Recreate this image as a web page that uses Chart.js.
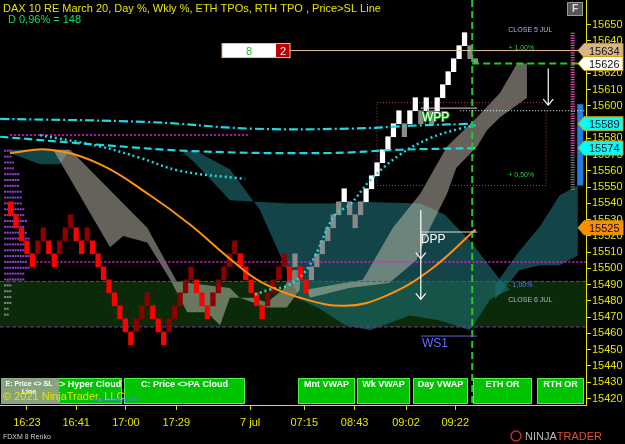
<!DOCTYPE html>
<html>
<head>
<meta charset="utf-8">
<script src="https://cdn.jsdelivr.net/npm/chart.js@4"></script>
<style>
  html, body { margin: 0; padding: 0; background: #000; }
  canvas { display: block; }
</style>
</head>
<body>
<canvas id="c" width="625" height="444"></canvas>
<script>
// renko bricks (8 pt), low price of each brick, colour code per brick
const brickLow = [
  15533,15525,15517,15509,15501,15509,15517,15509,15501,15509,
  15517,15525,15517,15509,15517,15509,15501,15493,15485,15477,
  15469,15461,15453,15461,15469,15477,15469,15461,15453,15461,
  15469,15477,15485,15493,15485,15477,15469,15477,15485,15493,
  15501,15509,15501,15493,15485,15477,15469,15477,15485,15493,
  15501,15493,15501,15493,15485,15493,15501,15509,15517,15525,
  15533,15541,15533,15525,15533,15541,15549,15557,15565,15573,
  15581,15589,15581,15589,15597,15589,15597,15589,15597,15605,
  15613,15621,15629,15637,15629
];
const brickCol = 'RRRRRDDRRDDDRRDRRRRRRRRDDDRRRDDDDDRRRDDDDDRRRRRDDDDRGRRGGGGGGWGGGWWWWWWWGWWGWGWWWWWWG';
const brickSize = 8;
const lastBrick = [15626, 15629];

// time axis
const timeTicks = [4, 13, 22.1, 31.3, 44.8, 54.7, 63.9, 73.3, 82.3];
const timeLabels = ['16:23', '16:41', '17:00', '17:29', '7 jul', '07:15', '08:43', '09:02', '09:22'];

// indicator lines [bar index, price]
const hyperCloud = [[0.9,15571],[8.2,15573],[17.4,15564],[26.5,15545],[33.8,15527],[41.1,15506],[46.6,15492],[53.9,15482],[62.2,15477],[69.5,15483],[77.7,15499],[86,15524]];
const mntVwap = [[-0.9,15592],[26.5,15590],[44.8,15586],[63.1,15586],[75.9,15588],[86,15589]];
const wkVwap = [[-0.9,15581],[17.4,15576],[35.6,15572],[59.4,15571],[72.2,15573],[86,15574]];
const prevVwap = [[6.4,15582],[17.4,15575],[24.7,15568],[32,15560],[43.9,15555]];
const dayVwap = [[45.7,15484],[48.4,15487],[52,15490],[55.7,15502],[60.3,15533],[63,15539],[66.7,15554],[72.2,15570],[77.6,15580],[83.1,15586],[86,15588]];

// clouds (polygons in bar index / price)
const tealLeft = [[0.9,15573],[11.9,15573],[10,15564],[6.4,15564],[0.9,15571]];
const tealMain = [[32,15573],[34.7,15565],[41.1,15542],[52.1,15540],[59.4,15540],[64.9,15541],[75.9,15540],[80.4,15533],[85,15517],[90.5,15493],[92.3,15487],
  [88.7,15481],[85,15462],[79.5,15468],[74,15471],[66.7,15462],[62.2,15465],[57.6,15475],[53.9,15481],[50.3,15508],[46.6,15536],[41.1,15561],[35.6,15571]];
const tealRight = [[89.6,15490],[94.1,15511],[97.8,15526],[101.4,15545],[104.7,15551],[104.7,15508],[101.4,15502],[97.8,15502],[94.1,15499],[89.6,15481]];
const grayLeft = [[8.8,15573],[11.9,15573],[26,15525],[31.4,15492],[41.1,15488],[42.9,15482],[45.3,15482],[47.9,15479],[50.8,15487],[52.6,15499],[53.9,15499],
  [53.9,15487],[51.5,15476],[47.9,15476],[42.9,15482],[41.1,15482],[39.3,15465],[36.9,15473],[33.3,15473],[30.2,15493],[26,15516],[21.6,15520],[19.2,15513]];
const grayRight = [[55.2,15487],[65.4,15493],[70.9,15525],[75.9,15546],[80.8,15575],[86.3,15593],[90.5,15608],[93.6,15626],[95.4,15626],
  [95.4,15605],[90.5,15593],[88.1,15585],[86.3,15575],[82.5,15562],[80.8,15546],[77.7,15525],[75.2,15505],[70.2,15491],[62.9,15488],[55.7,15482]];

// levels
const zoneLow = 15464, zoneHigh = 15492;
const pivotLine = 15504, prevHigh = 15582;
const tagPrices = [15634, 15626, 15589, 15574, 15525];
const tagColors = ['#d9b48a', '#ffffff', '#00ffff', '#00ffff', '#ff8c00'];
const tpoLeft = [3,3,4,4,6,6,6,7,7,7,8,8,9,8,9,10,10,10,10,9,10,8,8,3,3,3,3,2,2];

const lineDs = (pts, color, dash, w) => ({
  type: 'line', data: pts.map(p => ({x: p[0], y: p[1]})), borderColor: color, borderWidth: w,
  borderDash: dash, pointRadius: 0, tension: 0.4, fill: false, order: 0
});

const bricks = brickLow.map((lo, i) => ({x: i + 1, y: [lo, lo + brickSize]}));
bricks.push({x: brickLow.length + 1, y: lastBrick});
const colMap = {R: '#ff0000', D: '#8b0000', W: '#ffffff', G: '#8a8a8a'};
const brickColors = (brickCol + 'G').split('').map(c => colMap[c]);

const overlay = {
  id: 'overlay',
  beforeDatasetsDraw(chart) {
    const {ctx, chartArea: a, scales: {x, y}} = chart;
    const X = v => x.getPixelForValue(v), Y = v => y.getPixelForValue(v);
    ctx.save();
    ctx.beginPath(); ctx.rect(a.left, a.top, a.right - a.left, a.bottom - a.top); ctx.clip();
    // green zone
    ctx.fillStyle = '#0a2a0a';
    ctx.fillRect(a.left, Y(zoneHigh), a.right - a.left, Y(zoneLow) - Y(zoneHigh));
    const poly = (pts, fill) => {
      ctx.beginPath();
      pts.forEach((p, i) => i ? ctx.lineTo(X(p[0]), Y(p[1])) : ctx.moveTo(X(p[0]), Y(p[1])));
      ctx.closePath(); ctx.fillStyle = fill; ctx.fill();
    };
    [tealLeft, tealMain, tealRight].forEach(p => poly(p, 'rgba(30,110,115,0.62)'));
    [grayLeft, grayRight].forEach(p => poly(p, 'rgba(200,195,180,0.5)'));
    // zone borders
    ctx.setLineDash([4, 2]); ctx.lineWidth = 1; ctx.strokeStyle = '#7a3aa0';
    [zoneHigh, zoneLow].forEach(v => { ctx.beginPath(); ctx.moveTo(a.left, Y(v)); ctx.lineTo(a.right, Y(v)); ctx.stroke(); });
    ctx.setLineDash([2, 2]); ctx.strokeStyle = '#e020e0'; ctx.lineWidth = 1.5;
    ctx.beginPath(); ctx.moveTo(X(5), Y(pivotLine)); ctx.lineTo(a.right, Y(pivotLine)); ctx.stroke();
    ctx.beginPath(); ctx.moveTo(X(0.9), Y(prevHigh)); ctx.lineTo(X(44.8), Y(prevHigh)); ctx.stroke();
    // pink dotted box
    ctx.setLineDash([1, 2]); ctx.strokeStyle = '#a04070'; ctx.lineWidth = 1;
    ctx.strokeRect(X(68), Y(15602), X(98.9) - X(68), Y(15551) - Y(15602));
    // left TPO
    ctx.setLineDash([]);
    tpoLeft.forEach((n, i) => {
      const yy = Y(15573 - i * 3.6);
      ctx.fillStyle = i > 22 ? '#888' : '#9040d0';
      for (let k = 0; k < n; k++) ctx.fillRect(X(-0.9) + 4 + k * 2.6, yy, 2, 2);
    });
    // right TPO column
    for (let p = 15645; p > 15548; p -= 1.5) {
      ctx.fillStyle = p < 15572 ? '#777' : '#e050b0';
      ctx.fillRect(X(103.4), Y(p), 4, 1.2);
    }
    ctx.fillStyle = '#1e7fe0';
    ctx.fillRect(X(104.6), Y(15601), X(105.7) - X(104.6), Y(15551) - Y(15601));
    ctx.restore();
  },
  afterDatasetsDraw(chart) {
    const {ctx, chartArea: a, scales: {x, y}} = chart;
    const X = v => x.getPixelForValue(v), Y = v => y.getPixelForValue(v);
    ctx.save();
    // lines
    ctx.strokeStyle = '#e8c39a'; ctx.lineWidth = 1;
    ctx.beginPath(); ctx.moveTo(X(52.1), Y(15634)); ctx.lineTo(a.right, Y(15634)); ctx.stroke();
    ctx.setLineDash([7, 4]); ctx.strokeStyle = '#22cc22'; ctx.lineWidth = 2;
    ctx.beginPath(); ctx.moveTo(X(85.4), a.top); ctx.lineTo(X(85.4), a.bottom); ctx.stroke();
    ctx.beginPath(); ctx.moveTo(X(85.4), Y(15626)); ctx.lineTo(a.right, Y(15626)); ctx.stroke();
    ctx.setLineDash([1, 2]); ctx.strokeStyle = '#fff'; ctx.lineWidth = 1;
    ctx.beginPath(); ctx.moveTo(X(83.2), Y(15597)); ctx.lineTo(a.right, Y(15597)); ctx.stroke();
    ctx.setLineDash([]);
    ctx.strokeStyle = '#ddd';
    [15598.6, 15522.4].forEach(p => {
      ctx.beginPath(); ctx.moveTo(X(76), Y(p)); ctx.lineTo(X(86.3), Y(p)); ctx.stroke();
    });
    ctx.strokeStyle = '#6060d0';
    ctx.beginPath(); ctx.moveTo(X(76), Y(15458.4)); ctx.lineTo(X(86.3), Y(15458.4)); ctx.stroke();
    // arrows
    const arrow = (xi, p0, p1) => {
      const x0 = X(xi), y0 = Y(p0), y1 = Y(p1);
      ctx.strokeStyle = '#fff'; ctx.lineWidth = 1.2;
      ctx.beginPath(); ctx.moveTo(x0, y0); ctx.lineTo(x0, y1); ctx.stroke();
      ctx.beginPath(); ctx.moveTo(x0 - 5, y1 - 6); ctx.lineTo(x0, y1); ctx.lineTo(x0 + 5, y1 - 6); ctx.stroke();
    };
    arrow(99.3, 15623, 15600.5);
    arrow(76, 15536, 15506);
    arrow(76, 15506, 15481);
    // labels
    ctx.textBaseline = 'middle';
    ctx.font = '12px "Liberation Sans", Arial';
    ctx.fillStyle = '#fff'; ctx.fillText('DPP', X(76), Y(15517.5));
    ctx.strokeStyle = '#22aa22'; ctx.lineWidth = 2; ctx.strokeText('WPP', X(76.2), Y(15592.5));
    ctx.fillStyle = '#fff'; ctx.fillText('WPP', X(76.2), Y(15592.5));
    ctx.fillStyle = '#6a6aff'; ctx.fillText('WS1', X(76.2), Y(15454));
    ctx.font = '7px "Liberation Sans", Arial';
    ctx.fillStyle = '#a8b8d8'; ctx.fillText('CLOSE 5 JUL', X(92), Y(15646.6));
    ctx.fillText('CLOSE 6 JUL', X(92), Y(15480.6));
    ctx.fillStyle = '#22cc44'; ctx.fillText('+ 1,00%', X(92), Y(15635.5));
    ctx.fillText('+ 0,50%', X(92), Y(15557.4));
    ctx.fillStyle = '#5a78ff'; ctx.fillText('- 1,00%', X(92), Y(15489.8));
    // 8 | 2 box
    const bx = X(52.1), by = Y(15634);
    ctx.fillStyle = '#fff'; ctx.fillRect(bx - 68, by - 7, 54, 14);
    ctx.fillStyle = '#c00000'; ctx.fillRect(bx - 14, by - 7, 14, 14);
    ctx.strokeStyle = '#e8c39a'; ctx.lineWidth = 1; ctx.strokeRect(bx - 68, by - 7, 68, 14);
    ctx.font = '11px "Liberation Sans", Arial'; ctx.textAlign = 'center';
    ctx.fillStyle = '#22bb22'; ctx.fillText('8', bx - 41, by + 1);
    ctx.fillStyle = '#fff'; ctx.fillText('2', bx - 7, by + 1);
    ctx.restore();
  },
  afterDraw(chart) {
    const {ctx, scales: {y}} = chart;
    ctx.save();
    ctx.textBaseline = 'middle';
    // header
    ctx.font = '11px "Liberation Sans", Arial';
    ctx.fillStyle = '#e4e400';
    ctx.fillText('DAX 10 RE March 20, Day %, Wkly %, ETH TPOs, RTH TPO , Price>SL Line', 3, 9);
    ctx.fillStyle = '#10e060';
    ctx.fillText('D 0,96% = 148', 8, 20);
    // F button
    ctx.fillStyle = '#555'; ctx.fillRect(567, 2, 16, 14);
    ctx.strokeStyle = '#999'; ctx.strokeRect(567.5, 2.5, 15, 13);
    ctx.fillStyle = '#ddd'; ctx.font = 'bold 10px "Liberation Sans", Arial'; ctx.fillText('F', 572, 9);
    // price tags
    ctx.font = '11px "Liberation Sans", Arial';
    tagPrices.forEach((p, i) => {
      const yy = y.getPixelForValue(p);
      ctx.beginPath();
      ctx.moveTo(578, yy); ctx.lineTo(584, yy - 7); ctx.lineTo(623, yy - 7); ctx.lineTo(623, yy + 7); ctx.lineTo(584, yy + 7); ctx.closePath();
      ctx.fillStyle = tagColors[i]; ctx.fill();
      ctx.strokeStyle = '#c8a000'; ctx.lineWidth = 1; ctx.stroke();
      ctx.fillStyle = '#111'; ctx.fillText(String(p), 589, yy + 1);
    });
    // buttons
    const btns = [[1, 122, '<> Hyper Cloud'], [124, 245, 'C: Price <>PA Cloud'], [298, 355, 'Mnt VWAP'], [357, 410, 'Wk VWAP'],
      [413, 468, 'Day VWAP'], [473, 532, 'ETH OR'], [537, 584, 'RTH OR']];
    ctx.font = 'bold 9px "Liberation Sans", Arial'; ctx.textAlign = 'center';
    btns.forEach(([x0, x1, t]) => {
      ctx.fillStyle = '#00c400'; ctx.fillRect(x0, 378, x1 - x0, 26);
      ctx.strokeStyle = '#50f050'; ctx.strokeRect(x0 + 0.5, 378.5, x1 - x0 - 1, 25);
      ctx.fillStyle = '#fff'; ctx.fillText(t, x0 === 1 ? 88 : (x0 + x1) / 2, 385);
    });
    ctx.fillStyle = 'rgba(150,160,140,0.9)'; ctx.fillRect(1, 378, 58, 26);
    ctx.fillStyle = '#fff'; ctx.font = 'bold 7px "Liberation Sans", Arial';
    ctx.fillText('E: Price <> SL', 29, 384); ctx.fillText('Line', 29, 392);
    ctx.textAlign = 'left';
    ctx.font = '11px "Liberation Sans", Arial'; ctx.fillStyle = '#e4e400';
    ctx.fillText('\u00a9 2021 NinjaTrader, LLC', 3, 397);
    ctx.font = '5px "Liberation Sans", Arial'; ctx.fillStyle = '#4080ff';
    ctx.fillText('www.ninjatrader.com', 92, 400);
    // footer
    ctx.font = '7px "Liberation Sans", Arial'; ctx.fillStyle = '#ccc';
    ctx.fillText('FDXM 8 Renko', 3, 437);
    ctx.strokeStyle = '#c03020'; ctx.lineWidth = 1.5;
    ctx.beginPath(); ctx.arc(516, 436, 5, 0, Math.PI * 2); ctx.stroke();
    ctx.font = '11px "Liberation Sans", Arial';
    ctx.fillStyle = '#bbb'; ctx.fillText('NINJA', 525, 437);
    ctx.fillStyle = '#e05030'; ctx.fillText('TRADER', 525 + ctx.measureText('NINJA').width, 437);
    ctx.restore();
  }
};

new Chart(document.getElementById('c'), {
  type: 'bar',
  data: {
    datasets: [
      { type: 'bar', data: bricks, backgroundColor: brickColors, barThickness: 4.6, order: 1 },
      lineDs(hyperCloud, '#ff9010', [], 2),
      lineDs(mntVwap, '#22d8e0', [9, 3, 2, 3], 2.2),
      lineDs(wkVwap, '#22d8e0', [8, 4], 2.2),
      lineDs(prevVwap, '#22d8e0', [2, 3], 2.5),
      lineDs(dayVwap, '#22d8e0', [2, 3], 2.5)
    ]
  },
  plugins: [overlay],
  options: {
    responsive: false, animation: false, devicePixelRatio: 1,
    layout: { padding: 0 },
    plugins: { legend: { display: false }, tooltip: { enabled: false } },
    scales: {
      x: {
        type: 'linear', min: -0.92, max: 106.2, offset: false,
        grid: { display: true, drawOnChartArea: false, tickLength: 5, color: '#e4e400', offset: false },
        border: { color: '#e4e400', width: 1 },
        afterBuildTicks: s => { s.ticks = timeTicks.map(v => ({value: v})); },
        afterFit: s => { s.height = 39; s.paddingLeft = 0; s.paddingRight = 0; },
        ticks: { color: '#e4e400', font: { size: 11, family: '"Liberation Sans", Arial' }, padding: 6, maxRotation: 0, autoSkip: false,
          callback: (v, i) => timeLabels[i] }
      },
      y: {
        position: 'right', min: 15416, max: 15665.1,
        grid: { display: true, drawOnChartArea: false, tickLength: 5, color: '#e4e400' },
        border: { color: '#e4e400', width: 1 },
        afterBuildTicks: s => { const t = []; for (let v = 15420; v <= 15650; v += 10) t.push({value: v}); s.ticks = t; },
        afterFit: s => { s.width = 39; s.paddingTop = 0; s.paddingBottom = 0; },
        ticks: { color: '#e4e400', font: { size: 11, family: '"Liberation Sans", Arial' }, padding: 1, callback: v => String(v) }
      }
    }
  }
});
</script>
</body>
</html>
